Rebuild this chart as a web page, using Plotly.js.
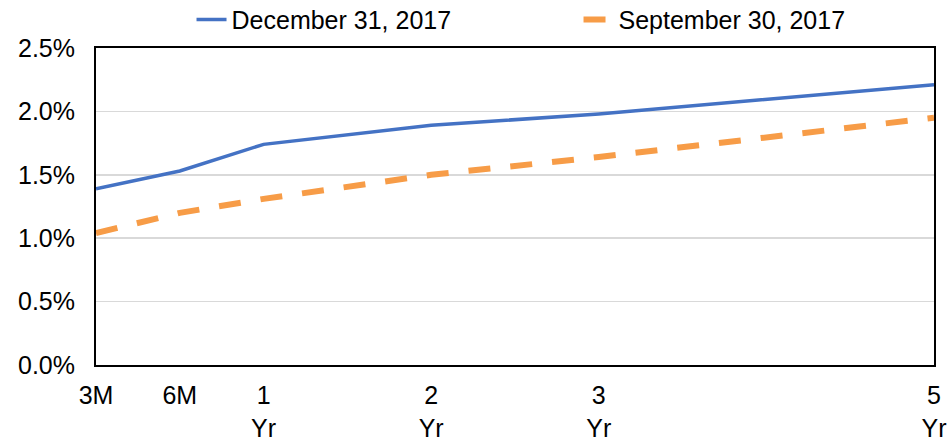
<!DOCTYPE html>
<html>
<head>
<meta charset="utf-8">
<script src="https://cdn.plot.ly/plotly-3.0.1.min.js"></script>
<style>html,body{margin:0;padding:0;background:#fff;}#chart{width:950px;height:440px;}</style>
</head>
<body>
<div id="chart"></div>
<script>
// Tenor labels and their positions on the maturity axis
const tenorLabels = ["3M", "6M", "1<br>Yr", "2<br>Yr", "3<br>Yr", "5<br>Yr"];
const tenorPos = [0, 1, 2, 4, 6, 10];
// Yields in percent
const dec2017 = [1.39, 1.53, 1.74, 1.89, 1.98, 2.21];
const sep2017 = [1.04, 1.20, 1.31, 1.50, 1.64, 1.95];
const yTicks = [0, 0.5, 1.0, 1.5, 2.0, 2.5];

const font = {family: "Liberation Sans, Arial, sans-serif", size: 25, color: "#000"};

const traces = [
  {x: tenorPos, y: dec2017, name: "December 31, 2017", mode: "lines",
   line: {color: "#4472C4", width: 3.5}},
  {x: tenorPos, y: sep2017, name: "September 30, 2017", mode: "lines",
   line: {color: "#F79C47", width: 6, dash: "22px,20px"}}
];

const layout = {
  width: 950, height: 440,
  margin: {l: 96, r: 16, t: 48, b: 75},
  paper_bgcolor: "#fff", plot_bgcolor: "#fff",
  font: font,
  showlegend: true,
  legend: {orientation: "h", xref: "container", yref: "container",
           x: 0.2016, xanchor: "left", y: 0.955, yanchor: "middle",
           font: font, bgcolor: "rgba(0,0,0,0)", entrywidth: 342, entrywidthmode: "pixels",
           traceorder: "normal"},
  xaxis: {range: [0, 10], tickvals: tenorPos, ticktext: tenorLabels,
          showgrid: false, zeroline: false, showline: true, linecolor: "#000",
          linewidth: 2, mirror: true, ticks: "", tickfont: font, ticklabelstandoff: 7,
          fixedrange: true},
  yaxis: {range: [0, 2.5], tickvals: yTicks,
          ticktext: yTicks.map(v => v.toFixed(1) + "%"),
          showgrid: true, gridcolor: "#d9d9d9", gridwidth: 1.5, zeroline: false,
          showline: true, linecolor: "#000", linewidth: 2, mirror: true,
          ticks: "", tickfont: font, ticklabelstandoff: 14, fixedrange: true}
};

Plotly.newPlot("chart", traces, layout, {displayModeBar: false, staticPlot: true});
</script>
</body>
</html>
